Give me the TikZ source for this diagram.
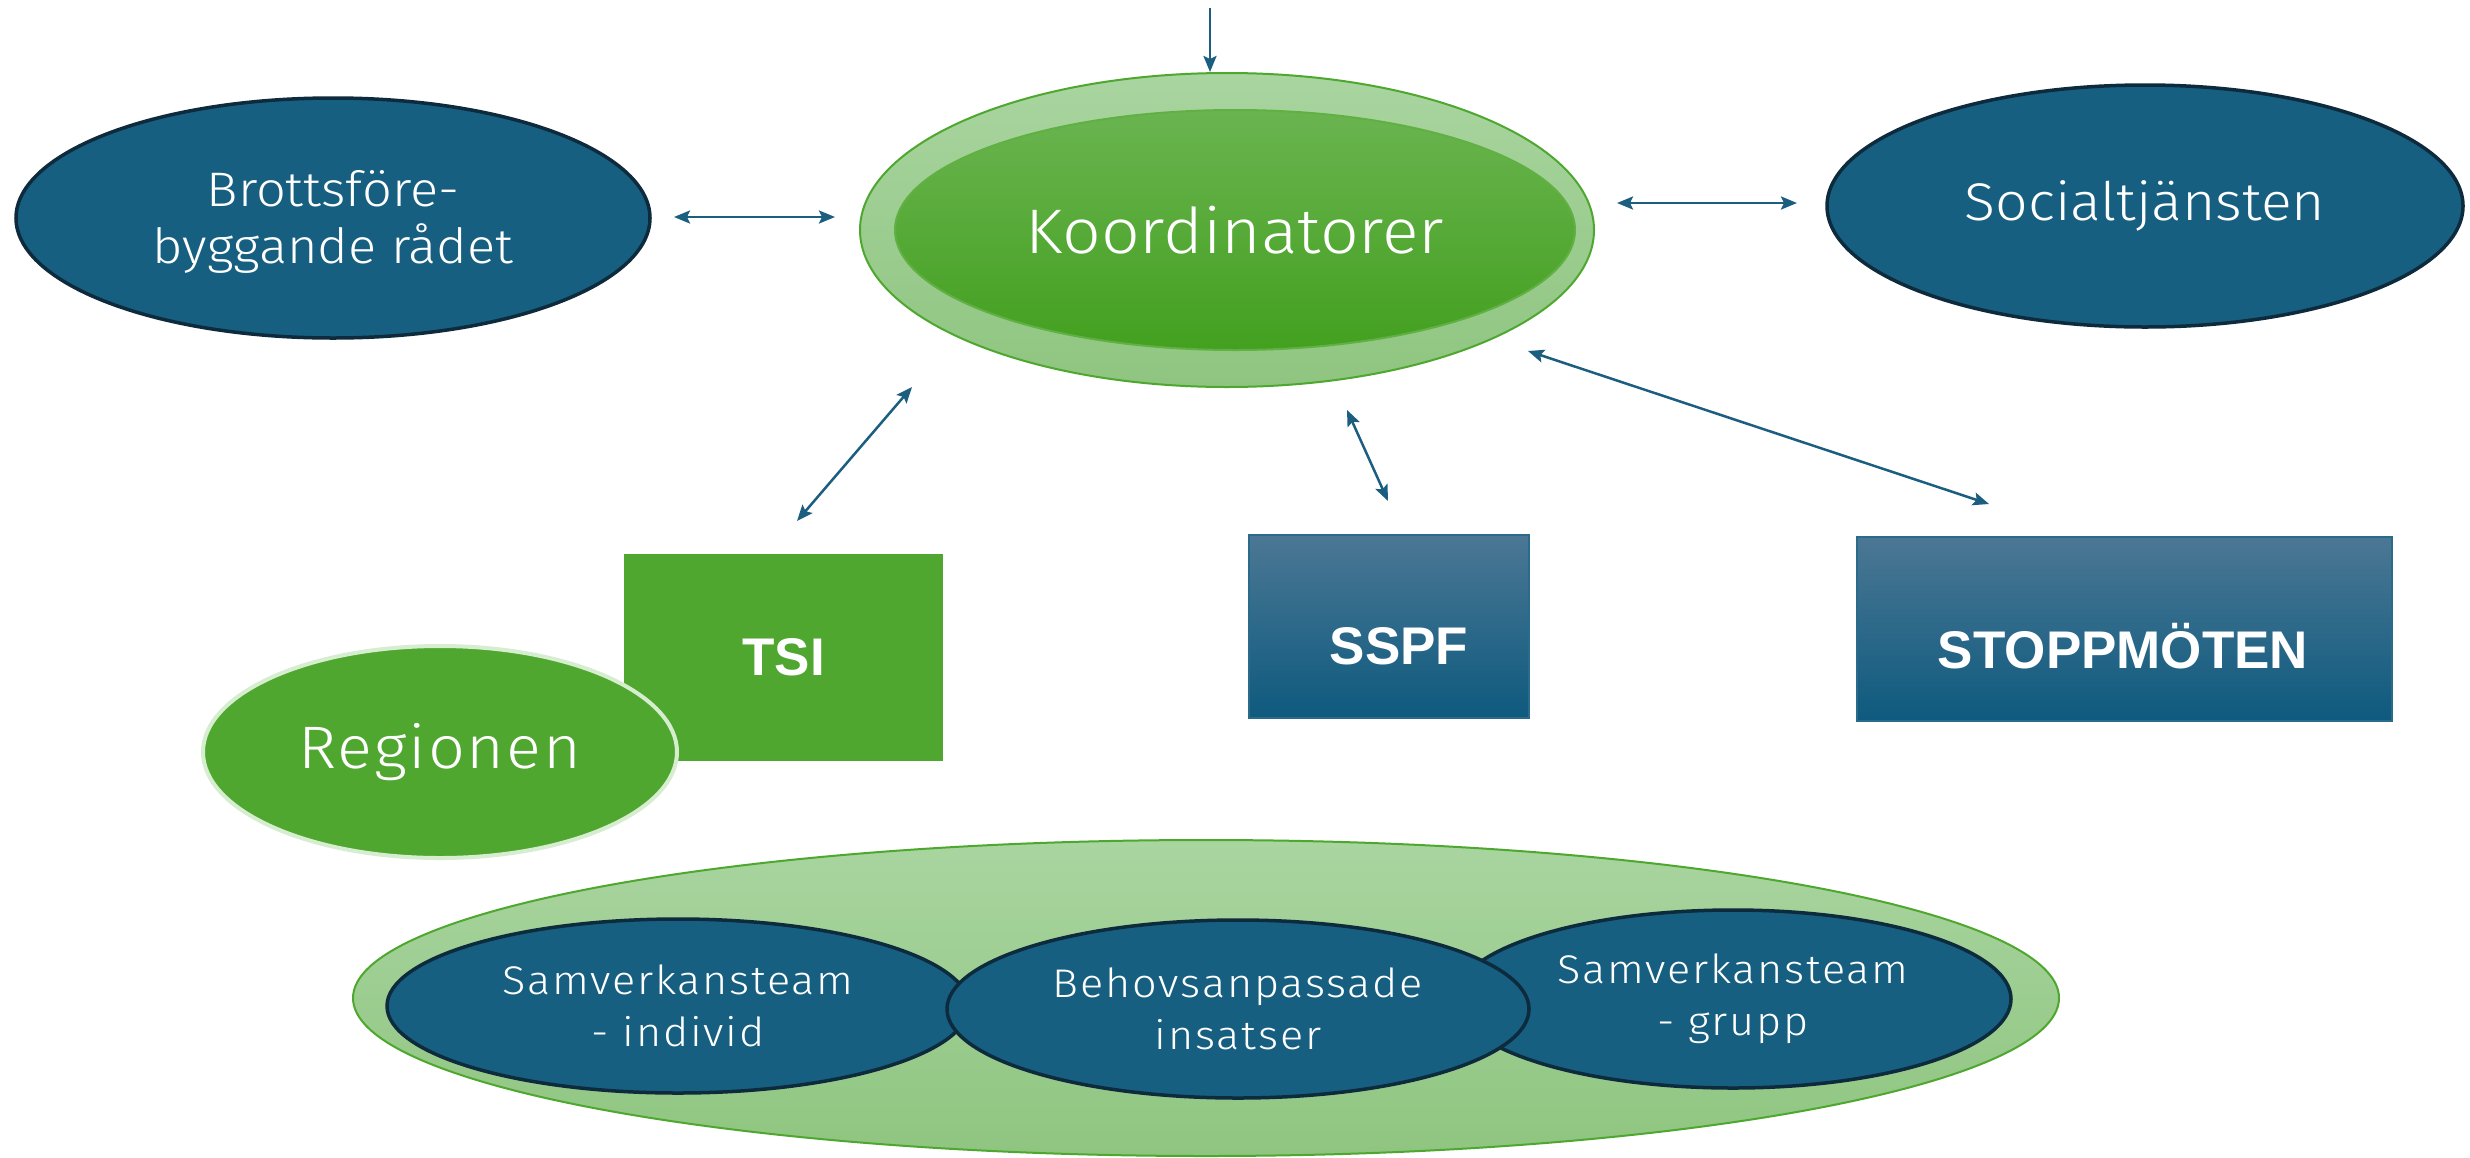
\documentclass[tikz,border=0pt]{standalone}
\usepackage{fontspec}
\setmainfont{Fira Sans Light}[FakeStretch=1.08]
\newfontfamily\heavy{Liberation Sans Bold}
\usetikzlibrary{arrows.meta,shapes.geometric}
\definecolor{tealblue}{HTML}{175F80}
\definecolor{navy}{HTML}{0E2A3D}
\definecolor{arrowc}{HTML}{1B5E80}
\definecolor{gflat}{HTML}{4FA72F}
\definecolor{gedge}{HTML}{4EA72E}
\definecolor{lgtop}{HTML}{A9D5A0}
\definecolor{lgbot}{HTML}{8FC580}
\definecolor{igtop}{HTML}{6AB450}
\definecolor{igbot}{HTML}{43A01F}
\definecolor{rtop}{HTML}{4B7794}
\definecolor{rbot}{HTML}{0E5A7E}
\definecolor{redge}{HTML}{2A6A8A}
\definecolor{glow}{HTML}{D6EECF}
\tikzset{
  blueell/.style={ellipse, draw=navy, line width=3.5pt, fill=tealblue, text=white, align=center, inner sep=0pt},
  lgell/.style={ellipse, draw=gedge, line width=2pt, top color=lgtop, bottom color=lgbot, inner sep=0pt},
  igell/.style={ellipse, draw=gedge!90!white, line width=2pt, top color=igtop, bottom color=igbot, inner sep=0pt, text=white},
  bluebox/.style={rectangle, draw=redge, line width=2pt, top color=rtop, bottom color=rbot, inner sep=0pt},
  boldlbl/.style={text=white, font=\heavy\fontsize{53}{60}\selectfont, inner sep=0pt},
  circtext/.style={font=\fontsize{40}{52}\selectfont\addfontfeature{LetterSpace=4.5}},
  conn/.style={draw=arrowc, line width=2.5pt, {Stealth[length=16pt,width=13pt,inset=3pt]}-{Stealth[length=16pt,width=13pt,inset=3pt]}},
  inconn/.style={draw=arrowc, line width=2.5pt, -{Stealth[length=16pt,width=13pt,inset=3pt]}}
}
\begin{document}
\begin{tikzpicture}[x=1pt,y=-1pt]
\useasboundingbox (0,0) rectangle (2470,1157);
\fill[white] (0,0) rectangle (2470,1157);

% Koordinatorer
\node[lgell, minimum width=734pt, minimum height=314pt] (koordOuter) at (1227,230) {};
\node[igell, minimum width=680pt, minimum height=240pt, font=\fontsize{63}{70}\selectfont] (koord) at (1235,230) {Koordinatorer};

% Brottsförebyggande rådet
\node[blueell, minimum width=634pt, minimum height=240pt] (bra) at (333,218) {};
\node[text=white, align=center, inner sep=0pt, font=\fontsize{48.5}{57}\selectfont] (bratext) at (333,222) {Brottsföre-\\byggande rådet};

% Socialtjänsten
\node[blueell, minimum width=636pt, minimum height=242pt, font=\fontsize{53}{60}\selectfont] (soc) at (2145,206) {Socialtjänsten};

% TSI and Regionen
\node[rectangle, fill=gflat, minimum width=319pt, minimum height=207pt, inner sep=0pt, boldlbl] (tsi) at (783.5,657.5) {TSI};
\node[ellipse, fill=gflat, draw=glow, line width=4pt, minimum width=474pt, minimum height=212pt, text=white, inner sep=0pt, font=\fontsize{60}{66}\selectfont\addfontfeature{LetterSpace=3}] (region) at (440,752) {Regionen};

% SSPF and STOPPMÖTEN
\node[bluebox, minimum width=280pt, minimum height=183pt] (sspf) at (1389,626.5) {};
\node[boldlbl] (sspflbl) at (1399,646) {SSPF};
\node[bluebox, minimum width=535pt, minimum height=184pt] (stopp) at (2124.5,629) {};
\node[boldlbl] (stopplbl) at (2123,646) {STOPPMÖTEN};

% bottom group
\node[lgell, minimum width=1706pt, minimum height=316pt] (group) at (1206,998) {};
\node[blueell, circtext, minimum width=582pt, minimum height=174pt] (indiv) at (678,1006) {Samverkansteam\\- individ};
\node[blueell, circtext, minimum width=556pt, minimum height=178pt] (grupp) at (1733,999) {Samverkansteam\\- grupp};
\node[blueell, circtext, minimum width=582pt, minimum height=178pt] (behov) at (1238,1009) {Behovsanpassade\\insatser};

% connectors
\coordinate (topin) at (1210,8);
\draw[inconn] (topin) -- (topin |- koordOuter.north);

\coordinate (a1) at (674,217);
\coordinate (a2) at (835,217);
\draw[conn] (a1) -- (a2);

\coordinate (b1) at (1617,203);
\coordinate (b2) at (1797,203);
\draw[conn] (b1) -- (b2);

\coordinate (c1) at (912,387);
\coordinate (c2) at (797,521);
\draw[conn] (c1) -- (c2);

\coordinate (d1) at (1347,410);
\coordinate (d2) at (1388,501);
\draw[conn] (d1) -- (d2);

\coordinate (e1) at (1528,351);
\coordinate (e2) at (1989,504);
\draw[conn] (e1) -- (e2);
\end{tikzpicture}
\end{document}
